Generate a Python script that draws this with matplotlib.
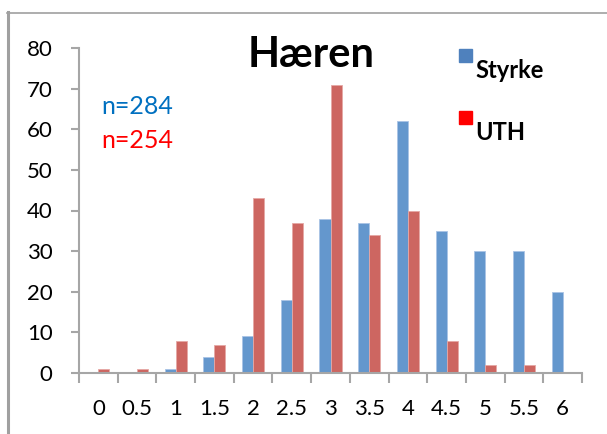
import matplotlib
matplotlib.use("Agg")
import matplotlib.pyplot as plt
from matplotlib.lines import Line2D
from matplotlib.patches import Rectangle
import numpy as np

plt.rcParams['font.family'] = ['Lato', 'DejaVu Sans']

categories = ["0", "0.5", "1", "1.5", "2", "2.5", "3", "3.5", "4", "4.5", "5", "5.5", "6"]
styrke = [0, 0, 1, 4, 9, 18, 38, 37, 62, 35, 30, 30, 20]
uth = [1, 1, 8, 7, 43, 37, 71, 34, 40, 8, 2, 2, 0]
series_names = ["Styrke", "UTH"]
count_labels = ["n=284", "n=254"]
title = "Hæren"

W, H = 607, 434
fig = plt.figure(figsize=(W / 100, H / 100), dpi=100)

def fx(px):
    return px / W

def fy(py):
    return 1 - py / H

ax = fig.add_axes([fx(79), fy(373), fx(582) - fx(79), fy(48) - fy(373)])

x = np.arange(len(categories))
bw = 0.285
blue = "#6497CD"
red = "#CD6661"
ax.bar(x - bw / 2, styrke, width=bw, color=blue, edgecolor="#A9C4E6", linewidth=0.6)
ax.bar(x + bw / 2, uth, width=bw, color=red, edgecolor="#E6A8A5", linewidth=0.6)

axis_gray = "#A6A6A6"
ax.set_xlim(-0.5, len(categories) - 0.5)
ax.set_ylim(0, 80)
for s in ("top", "right"):
    ax.spines[s].set_visible(False)
for s in ("left", "bottom"):
    ax.spines[s].set_color(axis_gray)
    ax.spines[s].set_linewidth(1.5)

ax.set_yticks(range(0, 81, 10))
ax.tick_params(axis="y", direction="out", length=6, width=1.5, color=axis_gray,
               pad=13, labelsize=16, labelcolor="black")

ax.set_xticks(np.arange(-0.5, len(categories), 1.0))
ax.set_xticklabels([])
ax.set_xticks(x, minor=True)
ax.set_xticklabels(categories, minor=True)
ax.tick_params(axis="x", which="major", direction="out", length=7, width=1.5, color=axis_gray)
ax.tick_params(axis="x", which="minor", length=0, pad=19, labelsize=16, labelcolor="black")

# title and sample sizes
fig.text(fx(311), fy(55), title, ha="center", va="center", fontsize=30, fontweight="bold")
fig.text(fx(101), fy(107), count_labels[0], ha="left", va="center", fontsize=18, color="#0070C0")
fig.text(fx(101), fy(141), count_labels[1], ha="left", va="center", fontsize=18, color="#FF0000")

# legend
legend_colors = ["#4F81BD", "#FF0000"]
legend_y = [66, 128]
for name, c, yy in zip(series_names, legend_colors, legend_y):
    fig.patches.append(Rectangle((fx(459), fy(yy - 4)), fx(13), fy(0) - fy(13),
                                 transform=fig.transFigure, color=c))
    fig.text(fx(475), fy(yy + 4), name, ha="left", va="center", fontsize=17, fontweight="bold")

# outer frame edges
fig.add_artist(Line2D([fx(7), 1], [fy(12.5), fy(12.5)], transform=fig.transFigure,
                      color="#A0A0A0", linewidth=1.2))
fig.add_artist(Line2D([fx(8), fx(8)], [fy(12), 0], transform=fig.transFigure,
                      color="#A0A0A0", linewidth=2.2))

fig.savefig("out.png", dpi=100)
